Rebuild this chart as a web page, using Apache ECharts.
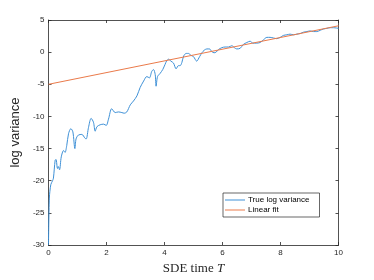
<!DOCTYPE html>
<html><head><meta charset="utf-8">
<script src="https://cdn.jsdelivr.net/npm/echarts@6/dist/echarts.min.js"></script>
<style>html,body{margin:0;padding:0;background:#fff}#c{width:374px;height:280px}</style>
</head><body><div id="c"></div>
<script>
const seriesNames = ['True log variance', 'Linear fit'];
const xTicks = [0, 2, 4, 6, 8, 10];
const yTicks = [-30, -25, -20, -15, -10, -5, 0, 5];
const trueT = [0,0.03,0.08,0.14,0.17,0.23,0.26,0.31,0.34,0.38,0.44,0.52,0.57,0.63,0.69,0.77,0.84,0.91,0.95,1.03,1.15,1.26,1.3,1.38,1.47,1.55,1.61,1.67,1.78,1.9,1.99,2.07,2.18,2.3,2.41,2.53,2.61,2.7,2.82,2.93,3.05,3.16,3.28,3.39,3.48,3.56,3.62,3.68,3.71,3.76,3.85,3.94,4.02,4.08,4.14,4.22,4.31,4.4,4.48,4.54,4.6,4.66,4.75,4.83,4.91,5.0,5.11,5.21,5.29,5.37,5.46,5.55,5.63,5.71,5.78,5.86,5.98,6.09,6.21,6.32,6.41,6.49,6.61,6.72,6.84,6.95,7.05,7.16,7.3,7.41,7.53,7.64,7.76,7.87,7.99,8.1,8.22,8.33,8.45,8.56,8.68,8.79,8.91,9.02,9.14,9.25,9.37,9.48,9.6,9.71,9.83,10];
const trueLogVar = [-30,-22.7,-20.6,-20,-19.6,-16.8,-16.7,-18.1,-17.8,-18.3,-16.3,-15.3,-15.6,-14.5,-12.7,-11.9,-12.4,-15,-13.5,-12.9,-12.8,-13.4,-13.5,-11.7,-10.3,-10.9,-12.3,-11.6,-11.3,-11.2,-11.4,-10.4,-8.8,-9.4,-9.3,-9.4,-9.5,-9.3,-8.2,-7.6,-6.8,-5.5,-4.5,-3.8,-4,-3,-2.7,-3.5,-5.3,-3.8,-3.3,-2.7,-1.9,-1.3,-1.1,-1.4,-1.7,-2.6,-2.1,-2.1,-1.6,-0.6,-0.2,-0.2,-0.5,-0.7,-1.4,-0.7,-0.1,0.3,0.5,0.5,0.1,-0.1,0,0.4,0.7,0.8,0.8,1.0,0.7,0.5,0.6,1.2,1.5,1.7,1.4,1.4,1.5,1.9,2.3,2.3,2.2,2.1,2.3,2.6,2.7,2.8,2.7,2.8,2.9,3.1,3.2,3.3,3.2,3.2,3.4,3.6,3.7,3.8,3.8,3.7];
const fitT = [0, 10];
const fitLogVar = [-5, 4.1];

const chart = echarts.init(document.getElementById('c'), null, {renderer: 'canvas'});
const labelStyle = {color: '#262626', fontSize: 8, fontFamily: 'Liberation Sans, Arial, sans-serif', margin: 4};
const lineStyle = {color: '#262626', width: 0.8};
const grid = {left: 48.5, top: 20, width: 290, height: 227.5, show: false};
chart.setOption({
  animation: false,
  backgroundColor: '#fff',
  grid: grid,
  xAxis: [
    {type: 'value', min: 0, max: 10, interval: 2, position: 'bottom',
     axisLine: {show: true, onZero: false, lineStyle: lineStyle},
     axisTick: {show: true, inside: true, length: 3, lineStyle: lineStyle},
     axisLabel: labelStyle, splitLine: {show: false},
     name: '{a|SDE time }{b|T}', nameLocation: 'middle', nameGap: 17,
     nameTextStyle: {rich: {a: {fontFamily: 'Liberation Serif, DejaVu Serif, serif', fontSize: 13, color: '#262626'},
                            b: {fontFamily: 'Liberation Serif, DejaVu Serif, serif', fontSize: 13, fontStyle: 'italic', color: '#262626'}}}},
    {type: 'value', min: 0, max: 10, interval: 2, position: 'top',
     axisLine: {show: true, onZero: false, lineStyle: lineStyle},
     axisTick: {show: true, inside: true, length: 3, lineStyle: lineStyle},
     axisLabel: {show: false}, splitLine: {show: false}}
  ],
  yAxis: [
    {type: 'value', min: -30, max: 5, interval: 5, position: 'left',
     axisLine: {show: true, onZero: false, lineStyle: lineStyle},
     axisTick: {show: true, inside: true, length: 3, lineStyle: lineStyle},
     axisLabel: labelStyle, splitLine: {show: false},
     name: 'log variance', nameLocation: 'middle', nameGap: 20, nameRotate: 90,
     nameTextStyle: {fontFamily: 'Liberation Sans, Arial, sans-serif', fontSize: 13, color: '#262626'}},
    {type: 'value', min: -30, max: 5, interval: 5, position: 'right',
     axisLine: {show: true, onZero: false, lineStyle: lineStyle},
     axisTick: {show: true, inside: true, length: 3, lineStyle: lineStyle},
     axisLabel: {show: false}, splitLine: {show: false}}
  ],
  legend: {
    orient: 'vertical', left: 223, top: 193,
    backgroundColor: '#fff', borderColor: '#262626', borderWidth: 0.7,
    padding: [3, 10, 3, 2], itemGap: 2, itemWidth: 20, itemHeight: 1,
    textStyle: {fontSize: 8, color: '#000', fontFamily: 'Liberation Sans, Arial, sans-serif', padding: [0, 0, 0, -2]},
    data: seriesNames.map(n => ({name: n, icon: 'rect'}))
  },
  series: [
    {name: seriesNames[0], type: 'line', symbol: 'none', smooth: 0.3,
     data: trueT.map((t, i) => [t, trueLogVar[i]]),
     lineStyle: {color: '#3e90d6', width: 1}, itemStyle: {color: '#3e90d6'}},
    {name: seriesNames[1], type: 'line', symbol: 'none',
     data: fitT.map((t, i) => [t, fitLogVar[i]]),
     lineStyle: {color: '#ea7a4a', width: 1}, itemStyle: {color: '#ea7a4a'}}
  ]
});
</script></body></html>
